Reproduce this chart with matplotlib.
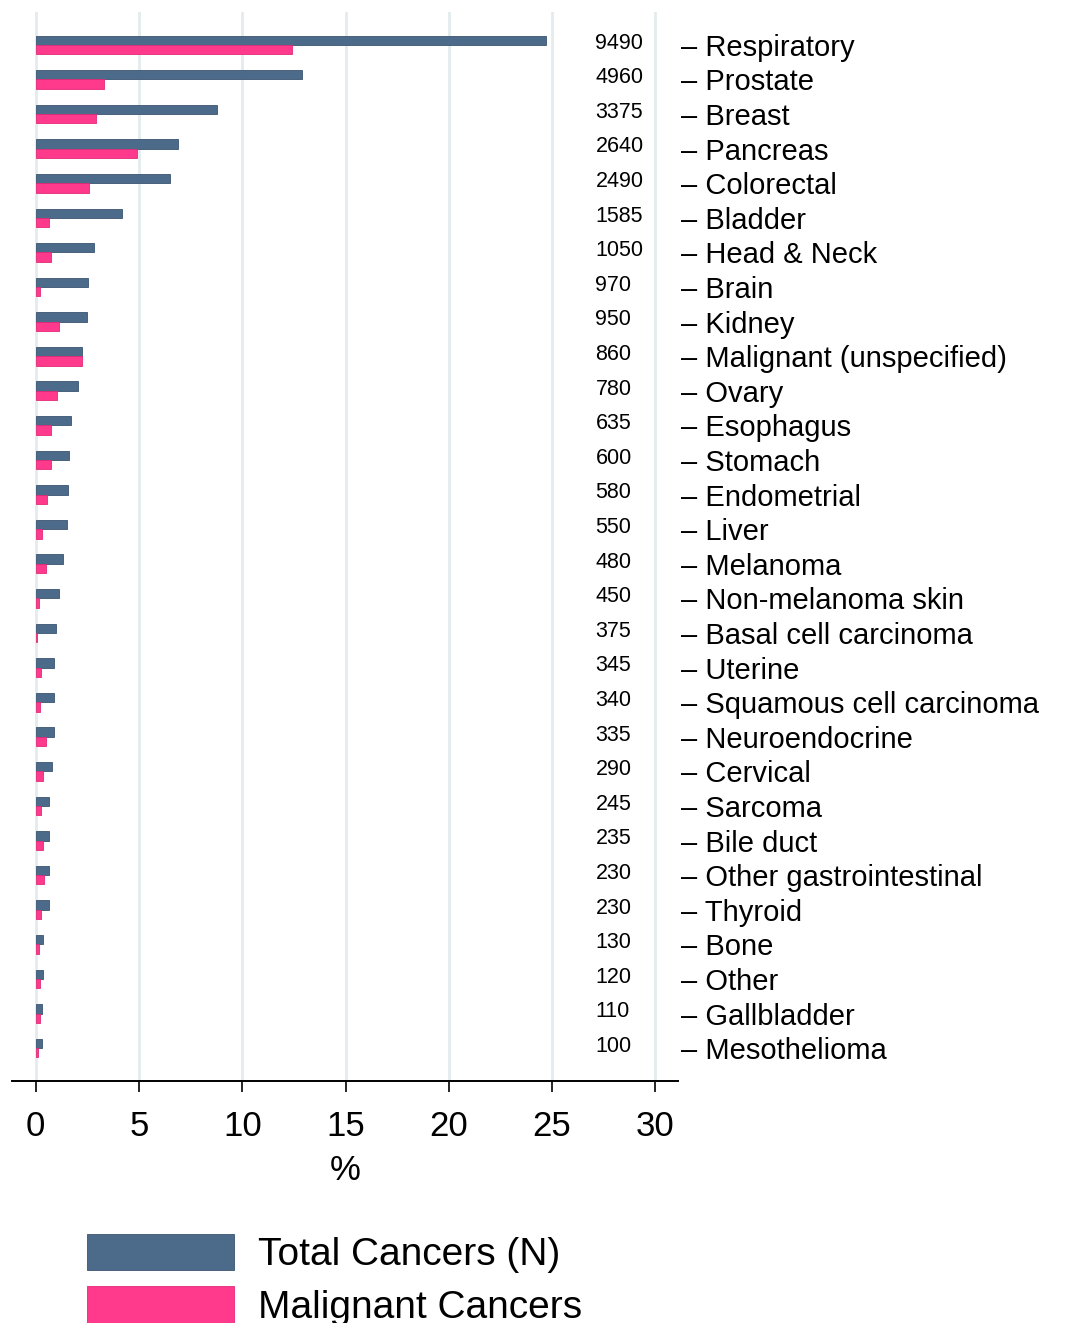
import matplotlib
matplotlib.use("Agg")
import matplotlib.pyplot as plt
import numpy as np

categories = ["Respiratory","Prostate","Breast","Pancreas","Colorectal","Bladder","Head & Neck",
 "Brain","Kidney","Malignant (unspecified)","Ovary","Esophagus","Stomach","Endometrial","Liver",
 "Melanoma","Non-melanoma skin","Basal cell carcinoma","Uterine","Squamous cell carcinoma",
 "Neuroendocrine","Cervical","Sarcoma","Bile duct","Other gastrointestinal","Thyroid","Bone",
 "Other","Gallbladder","Mesothelioma"]
counts = [9490,4960,3375,2640,2490,1585,1050,970,950,860,780,635,600,580,550,480,450,375,345,340,
 335,290,245,235,230,230,130,120,110,100]
total_pct = [24.7,12.9,8.8,6.9,6.5,4.2,2.8,2.55,2.5,2.25,2.05,1.7,1.6,1.55,1.5,1.3,1.15,1.0,0.9,0.9,
 0.9,0.8,0.65,0.63,0.63,0.63,0.35,0.33,0.3,0.3]
malig_pct = [12.4,3.3,2.9,4.9,2.6,0.65,0.75,0.2,1.15,2.25,1.05,0.75,0.75,0.55,0.3,0.5,0.15,0.05,0.25,
 0.2,0.5,0.35,0.25,0.35,0.4,0.25,0.15,0.2,0.2,0.1]

c_tot = "#4c6a89"
c_mal = "#ff3a8d"

fig = plt.figure(figsize=(10.66, 13.23), dpi=100)
ax = fig.add_axes([12/1066, 1-1081/1323, 666/1066, (1081-12)/1323])
y = np.arange(len(categories))
h = 0.27
ax.barh(y - h/2, total_pct, height=h, color=c_tot, edgecolor="#3a5470", linewidth=0.6, label="Total Cancers (N)", zorder=3)
ax.barh(y + h/2, malig_pct, height=h, color=c_mal, edgecolor="#e02a78", linewidth=0.6, label="Malignant Cancers", zorder=3)
for yi, c in zip(y, counts):
    ax.text(27.1, yi - 0.05, str(c), fontsize=15.5, ha="left", va="center", family="Liberation Sans")

ax.set_xlim(-1.15, 31.1)
ax.set_ylim(29.95, -0.95)
ax.set_xticks([0,5,10,15,20,25,30])
ax.tick_params(axis="x", labelsize=25, length=8, width=1.2, pad=13)
for lab in ax.get_xticklabels():
    lab.set_family("Liberation Sans")
ax.set_xlabel("%", fontsize=25, family="Liberation Sans", labelpad=8)
ax.yaxis.tick_right()
ax.set_yticks(y)
ax.set_yticklabels(["\u2013 " + c for c in categories], fontsize=21, family="Liberation Sans")
ax.tick_params(axis="y", length=0, pad=2, right=False)
for s in ["top", "left", "right"]:
    ax.spines[s].set_visible(False)
ax.spines["bottom"].set_linewidth(1.4)
ax.xaxis.grid(True, color="#e3ebee", linewidth=2, zorder=0)
ax.set_axisbelow(True)

fig.legend(loc="upper left", bbox_to_anchor=(71/1066, 1-1218/1323), frameon=False,
           prop={"family": "Liberation Sans", "size": 28}, handlelength=3.8, handleheight=1.05,
           handletextpad=0.6, labelspacing=0.35, borderaxespad=0)
fig.savefig("out.png", dpi=100)
